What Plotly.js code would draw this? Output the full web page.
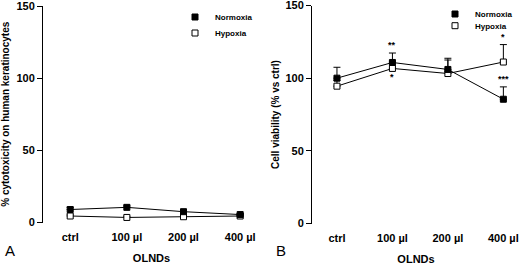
<!DOCTYPE html>
<html>
<head>
<meta charset="utf-8">
<script src="https://cdn.plot.ly/plotly-3.0.1.min.js"></script>
<style>html,body{margin:0;padding:0;background:#fff;}#chart{width:520px;height:266px;}</style>
</head>
<body>
<div id="chart"></div>
<script>
// ---- data ----
var categories = ['ctrl', '100 µl', '200 µl', '400 µl'];
var seriesNames = ['Normoxia', 'Hypoxia'];
// Panel A: % cytotoxicity on human keratinocytes
var cytoNormoxia = [9, 10.5, 7.5, 5.5];
var cytoNormoxiaErr = [1.5, 1, 1, 0.8];
var cytoHypoxia = [4.5, 3.5, 4, 4.5];
var cytoHypoxiaErr = [0.8, 0.8, 0.8, 0.5];
// Panel B: Cell viability (% vs ctrl)
var viabNormoxia = [100, 110.8, 106, 85.5];
var viabNormoxiaErr = [7.5, 6.5, 7.7, 8.5];
var viabHypoxia = [94.5, 106.7, 103.2, 111.1];
var viabHypoxiaErr = [4, 5, 9.3, 12];
var yTicks = [0, 50, 100, 150];

var FONT = 'Liberation Sans, Arial, sans-serif';
var bold = function (s) { return {family: FONT, size: s, color: '#000', weight: 'bold'}; };

function lineTrace(y, xa, ya) {
  return {x: categories, y: y, xaxis: xa, yaxis: ya, type: 'scatter', mode: 'lines',
    line: {color: '#000', width: 1}, showlegend: false, hoverinfo: 'skip'};
}
function markTrace(name, y, err, xa, ya, filled, legend) {
  return {x: categories, y: y, xaxis: xa, yaxis: ya, type: 'scatter', mode: 'markers', name: name,
    legend: legend,
    marker: {symbol: 'square', size: 6, color: filled ? '#000' : '#fff', line: {color: '#000', width: 1}},
    error_y: {type: 'data', symmetric: false, array: err, arrayminus: err.map(function(){return 0;}),
      color: '#000', thickness: 1, width: 3.5}};
}

var data = [
  lineTrace(cytoNormoxia, 'x', 'y'),
  lineTrace(cytoHypoxia, 'x', 'y'),
  lineTrace(viabNormoxia, 'x2', 'y2'),
  lineTrace(viabHypoxia, 'x2', 'y2'),
  markTrace(seriesNames[1], cytoHypoxia, cytoHypoxiaErr, 'x', 'y', false, 'legend2'),
  markTrace(seriesNames[0], cytoNormoxia, cytoNormoxiaErr, 'x', 'y', true, 'legend'),
  markTrace(seriesNames[1], viabHypoxia, viabHypoxiaErr, 'x2', 'y2', false, 'legend4'),
  markTrace(seriesNames[0], viabNormoxia, viabNormoxiaErr, 'x2', 'y2', true, 'legend3')
];

function yax(domain, anchor, title, standoff) {
  return {domain: domain, anchor: anchor, range: [0, 150], tickvals: yTicks,
    ticks: 'outside', ticklen: 5, tickwidth: 1, tickcolor: '#000', ticklabeloverflow: 'allow',
    showline: true, linecolor: '#000', linewidth: 1, showgrid: false, zeroline: false,
    tickfont: bold(11), title: {text: title, font: bold(10), standoff: standoff}, fixedrange: true};
}
function xax(domain, anchor, range) {
  return {domain: domain, anchor: anchor, type: 'category', range: range,
    showline: false, ticks: '', showgrid: false, zeroline: false, ticklabelstandoff: 6,
    ticklabeloverflow: 'allow',
    tickfont: bold(11), title: {text: 'OLNDs', font: bold(11), standoff: 12}, fixedrange: true};
}
function leg(x, y, xanchor) {
  return {x: x, y: y, xanchor: xanchor, yanchor: 'middle', font: bold(8),
    orientation: 'h', entrywidth: 40, entrywidthmode: 'pixels',
    bgcolor: 'rgba(0,0,0,0)', borderwidth: 0, itemclick: false, itemdoubleclick: false};
}
function star(text, xa, ya, x, y) {
  return {text: text, xref: xa, yref: ya, x: x, y: y, showarrow: false, font: bold(9)};
}

var layout = {
  width: 520, height: 266,
  margin: {l: 0, r: 0, t: 0, b: 0, autoexpand: false},
  paper_bgcolor: '#fff', plot_bgcolor: '#fff',
  showlegend: true,
  xaxis: xax([43/520, 260/520], 'y', [-0.48, 3.35]),
  yaxis: yax([1 - 222.5/266, 1 - 6/266], 'x', '% cytotoxicity on human keratinocytes', 8),
  xaxis2: xax([312/520, 1], 'y2', [-0.45, 3.3]),
  yaxis2: yax([1 - 223.5/266, 1 - 5.5/266], 'x2', 'Cell viability (% vs ctrl)', 3),
  legend: leg(175/520, 1 - 17/266, 'left'),
  legend2: leg(175/520, 1 - 33/266, 'left'),
  legend3: leg(1, 1 - 14/266, 'right'),
  legend4: leg(1, 1 - 25.7/266, 'right'),
  annotations: [
    {text: 'A', xref: 'paper', yref: 'paper', x: 10/520, y: 1 - 250/266, xanchor: 'center', yanchor: 'middle',
      showarrow: false, font: {family: FONT, size: 15, color: '#000'}},
    {text: 'B', xref: 'paper', yref: 'paper', x: 281/520, y: 1 - 250/266, xanchor: 'center', yanchor: 'middle',
      showarrow: false, font: {family: FONT, size: 15, color: '#000'}},
    star('**', 'x2', 'y2', 1, 123),
    star('*', 'x2', 'y2', 1, 100.5),
    star('*', 'x2', 'y2', 3, 128),
    star('***', 'x2', 'y2', 3, 99.5)
  ]
};

Plotly.newPlot('chart', data, layout, {displayModeBar: false, staticPlot: true});
</script>
</body>
</html>
